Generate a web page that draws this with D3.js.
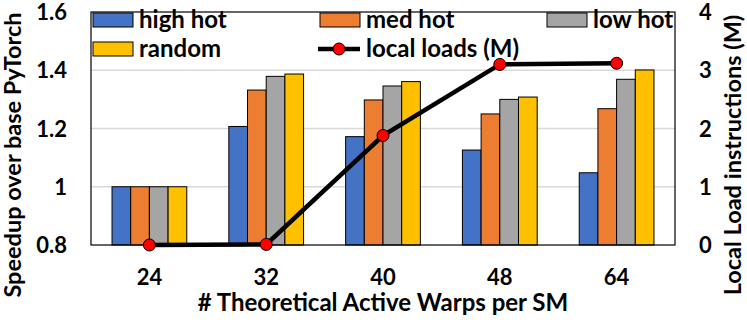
<!DOCTYPE html>
<html>
<head>
<meta charset="utf-8">
<script src="https://cdn.jsdelivr.net/npm/d3@7"></script>
<style>
  body { margin: 0; background: #fff; }
  text { font-family: Lato, "Open Sans", sans-serif; font-weight: bold; fill: #000; }
</style>
</head>
<body>
<div class="canvas"></div>
<script>
const [width, height] = [747, 323];

// data
const warps = ['24', '32', '40', '48', '64'];
const seriesNames = ['high hot', 'med hot', 'low hot', 'random'];
const highHot = [1.0, 1.207, 1.172, 1.126, 1.048];
const medHot = [1.0, 1.332, 1.298, 1.250, 1.268];
const lowHot = [1.0, 1.379, 1.346, 1.300, 1.369];
const random = [1.0, 1.387, 1.361, 1.308, 1.401];
const localLoads = [0, 0.01, 1.88, 3.10, 3.12];
const leftTicks = [0.8, 1, 1.2, 1.4, 1.6];
const rightTicks = [0, 1, 2, 3, 4];

const colors = ['#4472C4', '#ED7D31', '#A5A5A5', '#FFC000'];
const series = [highHot, medHot, lowHot, random];

const margin = {top: 12, right: 72, bottom: 78, left: 91};
const plotW = width - margin.left - margin.right;
const plotH = height - margin.top - margin.bottom;

const svg = d3.select('.canvas')
    .append('svg')
    .attr('width', width)
    .attr('height', height);

const g = svg.append('g')
    .attr('transform', `translate(${margin.left},${margin.top})`);

const x = d3.scaleBand().domain(warps).range([0, plotW]).paddingInner(0.36).paddingOuter(0.18);
const xSub = d3.scaleBand().domain(d3.range(4)).range([0, x.bandwidth()]);
const y = d3.scaleLinear().domain([0.8, 1.6]).range([plotH, 0]);
const y2 = d3.scaleLinear().domain([0, 4]).range([plotH, 0]);

// grid
g.selectAll('line.grid')
    .data(leftTicks.slice(1, -1))
    .enter()
    .append('line')
    .attr('class', 'grid')
    .attr('x1', 0).attr('x2', plotW)
    .attr('y1', d => y(d)).attr('y2', d => y(d))
    .attr('stroke', '#d9d9d9')
    .attr('stroke-width', 1.5);

// bars
series.forEach((vals, si) => {
    g.selectAll('rect.s' + si)
        .data(vals)
        .enter()
        .append('rect')
        .attr('class', 's' + si)
        .attr('x', (d, i) => x(warps[i]) + xSub(si))
        .attr('y', d => y(d))
        .attr('width', xSub.bandwidth())
        .attr('height', d => plotH - y(d))
        .attr('fill', colors[si])
        .attr('stroke', '#000')
        .attr('stroke-width', 1);
});

// frame
g.append('rect')
    .attr('width', plotW).attr('height', plotH)
    .attr('fill', 'none')
    .attr('stroke', '#000')
    .attr('stroke-width', 1.2);

// line
const line = d3.line()
    .x((d, i) => x(warps[i]) + x.bandwidth() / 2)
    .y(d => y2(d));

g.append('path')
    .datum(localLoads)
    .attr('d', line)
    .attr('fill', 'none')
    .attr('stroke', '#000')
    .attr('stroke-width', 4.5);

g.selectAll('circle.pt')
    .data(localLoads)
    .enter()
    .append('circle')
    .attr('class', 'pt')
    .attr('cx', (d, i) => x(warps[i]) + x.bandwidth() / 2)
    .attr('cy', d => y2(d))
    .attr('r', 6)
    .attr('fill', '#FF0000')
    .attr('stroke', '#000')
    .attr('stroke-width', 1);

// axes
const leftAxis = g.append('g')
    .call(d3.axisLeft(y).tickValues(leftTicks).tickFormat(d => d === 1 ? '1' : d3.format('.1f')(d)).tickSize(0).tickPadding(24));
leftAxis.select('.domain').remove();
leftAxis.selectAll('text').style('font-size', '22px').attr('dy', '0.35em');

const rightAxis = g.append('g')
    .attr('transform', `translate(${plotW},0)`)
    .call(d3.axisRight(y2).tickValues(rightTicks).tickFormat(d3.format('d')).tickSize(0).tickPadding(24));
rightAxis.select('.domain').remove();
rightAxis.selectAll('text').style('font-size', '22px').attr('dy', '0.35em');

const bottomAxis = g.append('g')
    .attr('transform', `translate(0,${plotH})`)
    .call(d3.axisBottom(x).tickSize(0).tickPadding(24));
bottomAxis.select('.domain').remove();
bottomAxis.selectAll('text').style('font-size', '22px');

// titles
svg.append('text')
    .attr('transform', 'translate(21,155) rotate(-90)')
    .attr('text-anchor', 'middle')
    .style('font-size', '23.5px')
    .text('Speedup over base PyTorch');

svg.append('text')
    .attr('transform', 'translate(741,155) rotate(-90)')
    .attr('text-anchor', 'middle')
    .style('font-size', '23.5px')
    .text('Local Load instructions (M)');

svg.append('text')
    .attr('x', margin.left + plotW / 2)
    .attr('y', 311)
    .attr('text-anchor', 'middle')
    .style('font-size', '24px')
    .text('# Theoretical Active Warps per SM');

// legend
const legendItems = [
    {name: 'high hot', type: 'bar', color: colors[0], lx: 2, ly: 20},
    {name: 'med hot', type: 'bar', color: colors[1], lx: 229, ly: 20},
    {name: 'low hot', type: 'bar', color: colors[2], lx: 456, ly: 20},
    {name: 'random', type: 'bar', color: colors[3], lx: 2, ly: 49},
    {name: 'local loads (M)', type: 'line', lx: 229, ly: 49}
];

const leg = g.selectAll('g.leg')
    .data(legendItems)
    .enter()
    .append('g')
    .attr('class', 'leg')
    .attr('transform', d => `translate(${d.lx},${d.ly - margin.top})`);

leg.filter(d => d.type === 'bar')
    .append('rect')
    .attr('x', 0).attr('y', -7)
    .attr('width', 40).attr('height', 14)
    .attr('fill', d => d.color)
    .attr('stroke', '#000')
    .attr('stroke-width', 1);

const lineLeg = leg.filter(d => d.type === 'line');
lineLeg.append('line')
    .attr('x1', -2).attr('x2', 40)
    .attr('stroke', '#000').attr('stroke-width', 4.5);
lineLeg.append('circle')
    .attr('cx', 19).attr('r', 6)
    .attr('fill', '#FF0000').attr('stroke', '#000');

leg.append('text')
    .attr('x', 46)
    .attr('dy', '0.33em')
    .style('font-size', '24px')
    .text(d => d.name);
</script>
</body>
</html>
